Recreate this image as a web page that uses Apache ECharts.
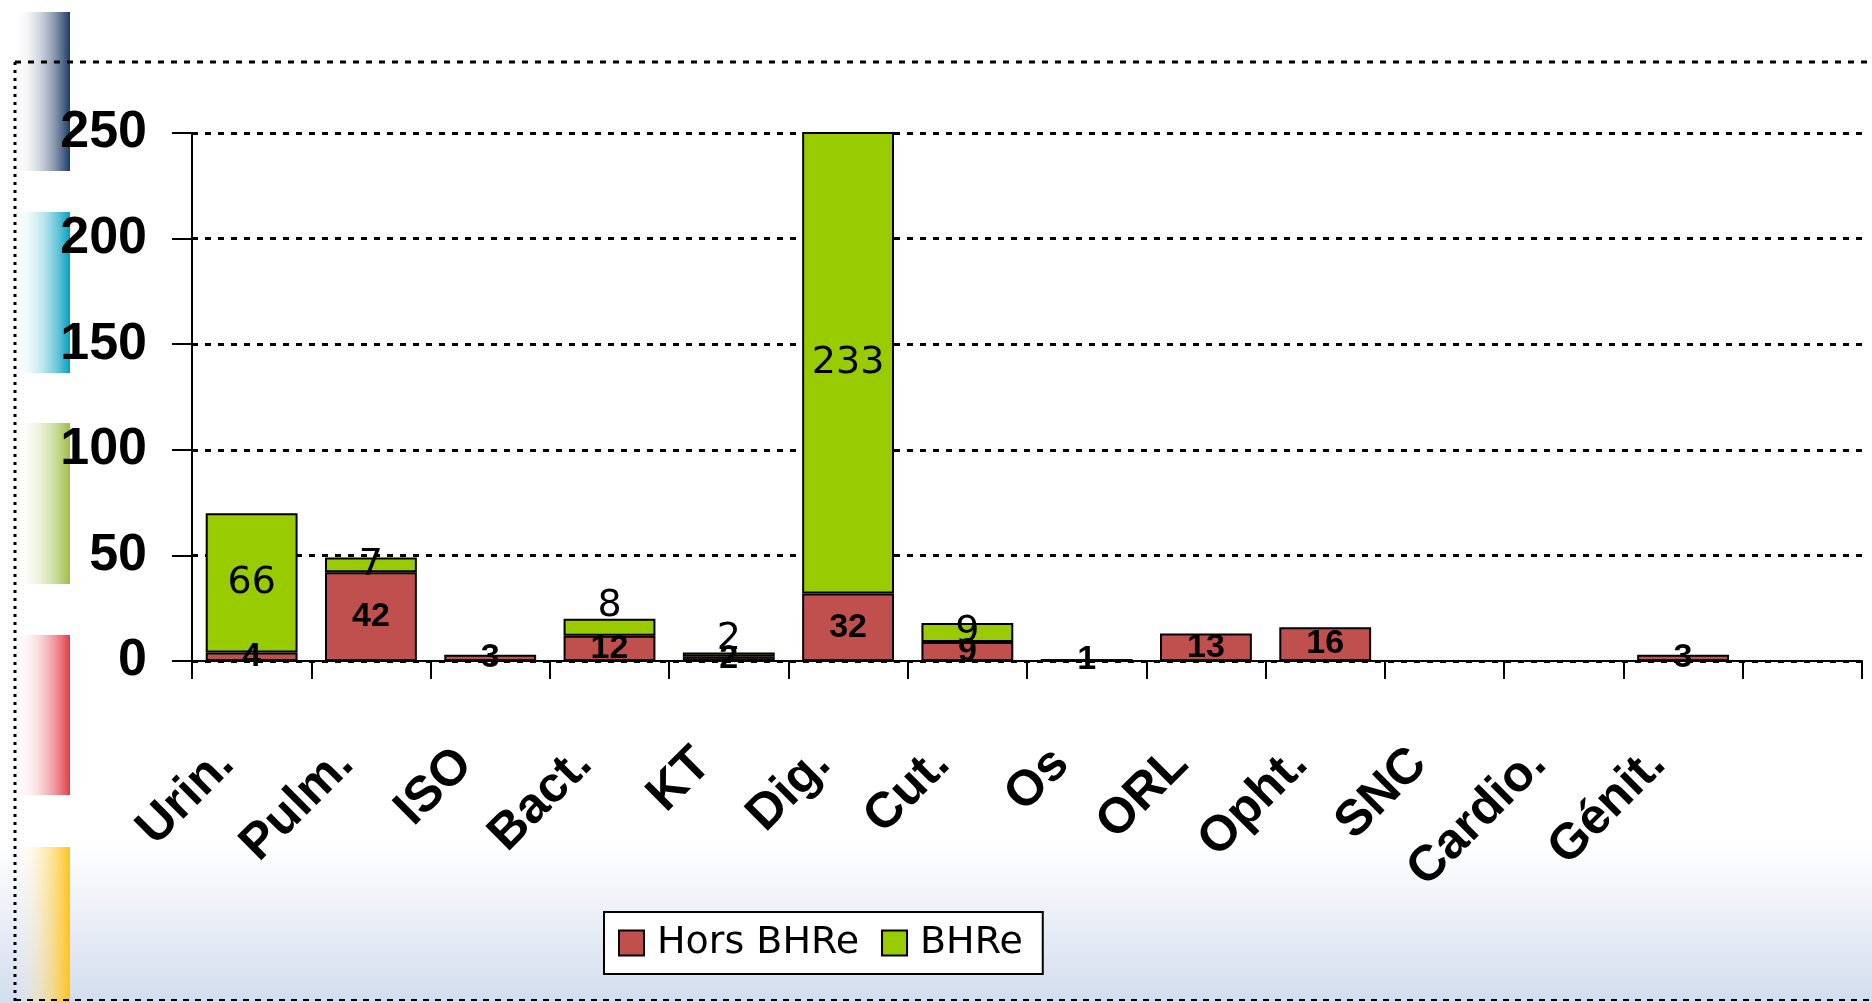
<!DOCTYPE html>
<html><head><meta charset="utf-8">
<script src="https://cdn.jsdelivr.net/npm/echarts@6/dist/echarts.min.js"></script>
<style>html,body{margin:0;padding:0;overflow:hidden;background:#fff}#c{width:1872px;height:1003px}</style>
</head><body><div id="c"></div>
<script>
// ---- data ----
const categories = ['Urin.', 'Pulm.', 'ISO', 'Bact.', 'KT', 'Dig.', 'Cut.', 'Os', 'ORL', 'Opht.', 'SNC', 'Cardio.', 'Génit.', ''];
const horsBHRe   = [4, 42, 3, 12, 2, 32, 9, 1, 13, 16, 0, 0, 3, null];
const bhre       = [66, 7, 0, 8, 2, 233, 9, 0, 0, 0, 0, 0, 0, null];
const seriesNames = ['Hors BHRe', 'BHRe'];
const yMin = 0, yMax = 250, yStep = 50;

// ---- build ----
const chart = echarts.init(document.getElementById('c'), null, {renderer: 'canvas'});
const labelAbove = ['Bact.', 'KT'];
const grad = (c0, c1) => ({type: 'linear', x: 0, y: 0, x2: 1, y2: 0, colorStops: [{offset: 0, color: c0}, {offset: 1, color: c1}]});
const decoBars = [
  {y: 12, h: 159, c: '#1b3a64'},
  {y: 212, h: 161, c: '#00a0c0'},
  {y: 423, h: 161, c: '#9dbe45'},
  {y: 635, h: 160, c: '#e33a46'},
  {y: 847, h: 156, c: '#ffc31c'}
];
const graphics = decoBars.map(d => ({
  type: 'rect', z: -1, shape: {x: 14, y: d.y, width: 56, height: d.h},
  style: {fill: grad('rgba(255,255,255,0)', d.c)}
}));
graphics.push(
  {type: 'line', z: 0, shape: {x1: 15, y1: 62, x2: 1872, y2: 62}, style: {stroke: '#000', lineWidth: 3, lineDash: [6, 7]}},
  {type: 'line', z: 0, shape: {x1: 15, y1: 62, x2: 15, y2: 1003}, style: {stroke: '#000', lineWidth: 3, lineDash: [3, 5]}},
  {type: 'line', z: 0, shape: {x1: 15, y1: 1000, x2: 1872, y2: 1000}, style: {stroke: '#000', lineWidth: 2, lineDash: [6, 6]}}
);

const zeroToEmpty = v => (v === 0 ? null : v);
const option = {
  animation: false,
  backgroundColor: {type: 'linear', x: 0, y: 0, x2: 0, y2: 1, colorStops: [
    {offset: 0, color: '#ffffff'}, {offset: 0.84, color: '#ffffff'}, {offset: 1, color: '#d3ddee'}]},
  graphic: graphics,
  grid: {left: 192, right: 10, top: 133, height: 528, containLabel: false},
  legend: {
    left: 604, top: 912,
    data: seriesNames,
    icon: 'rect', itemWidth: 25, itemHeight: 25, itemGap: 22,
    itemStyle: {borderColor: '#000', borderWidth: 2},
    backgroundColor: '#fff', borderColor: '#000', borderWidth: 2,
    padding: [10, 20, 10, 14],
    textStyle: {fontFamily: 'DejaVu Sans', fontSize: 38, color: '#000', padding: [0, 0, 0, 8], lineHeight: 42}
  },
  xAxis: {
    type: 'category', data: categories,
    axisLine: {lineStyle: {color: '#000', width: 2}},
    axisTick: {show: true, length: 18, lineStyle: {color: '#000', width: 2}},
    axisLabel: {interval: 0, rotate: 45, margin: 70, padding: [0, 36, 0, 0],
      fontFamily: 'Liberation Sans, Arial', fontWeight: 'bold', fontSize: 50, color: '#000'}
  },
  yAxis: {
    type: 'value', min: yMin, max: yMax, interval: yStep,
    axisLine: {show: true, lineStyle: {color: '#000', width: 2}},
    axisTick: {show: true, length: 20, lineStyle: {color: '#000', width: 2}},
    axisLabel: {margin: 45, fontFamily: 'Liberation Sans, Arial', fontWeight: 'bold', fontSize: 52, color: '#000'},
    splitLine: {show: true, lineStyle: {color: '#000', width: 3, type: [6, 7]}}
  },
  series: [
    {
      name: seriesNames[0], type: 'bar', stack: 'total', barWidth: '77%',
      data: horsBHRe.map(zeroToEmpty),
      itemStyle: {color: '#c0504d', borderColor: '#000', borderWidth: 2},
      label: {show: true, position: 'inside', formatter: p => (p.value ? String(p.value) : ''),
        fontFamily: 'Liberation Sans, Arial', fontWeight: 'bold', fontSize: 34, color: '#000'}
    },
    {
      name: seriesNames[1], type: 'bar', stack: 'total', barWidth: '77%',
      data: bhre.map((v, i) => labelAbove.includes(categories[i])
        ? {value: zeroToEmpty(v), label: {position: 'top', distance: -6}}
        : zeroToEmpty(v)),
      itemStyle: {color: '#99cc00', borderColor: '#000', borderWidth: 2},
      label: {show: true, position: 'inside', formatter: p => (p.value ? String(p.value) : ''),
        fontFamily: 'DejaVu Sans', fontSize: 38, color: '#000'}
    }
  ]
};
chart.setOption(option);
</script>
</body></html>
